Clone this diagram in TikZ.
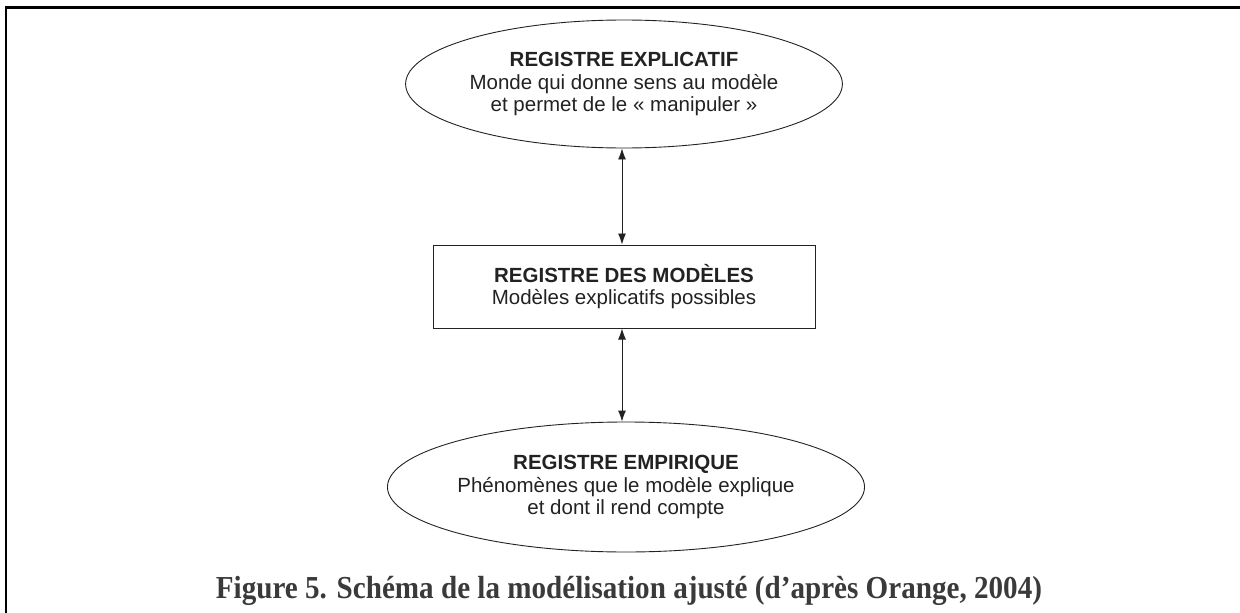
\documentclass[tikz,border=0pt]{standalone}
\usepackage{fontspec}
\setmainfont{Liberation Serif}
\setsansfont{Liberation Sans}
\usetikzlibrary{shapes.geometric,arrows.meta}
\definecolor{ink}{HTML}{222222}
\definecolor{capink}{HTML}{3A3A3A}
\tikzset{
  regell/.style={ellipse, draw=ink, line width=0.9pt, inner sep=0pt, text=ink,
    align=center, font=\sffamily\fontsize{20.5}{22.5}\selectfont},
  regbox/.style={rectangle, draw=ink, line width=1pt, inner sep=0pt, text=ink,
    align=center, font=\sffamily\fontsize{20.5}{22.5}\selectfont},
  dblarrow/.style={draw=ink, line width=0.9pt, {Latex[length=11pt,width=8pt]}-{Latex[length=11pt,width=8pt]}},
  frameline/.style={line width=2.2pt, black},
}
\begin{document}
\begin{tikzpicture}[x=1pt,y=-1pt]
\useasboundingbox (0,0) rectangle (1240,613);
\draw[frameline] (6,613) -- (6,7.5) -- (1240,7.5);
\node[regell, minimum width=384pt, minimum height=128pt] (expl) at (624,84)
  {\textbf{REGISTRE EXPLICATIF}\\Monde qui donne sens au modèle\\et permet de le « manipuler »};
\node[regbox, minimum width=382pt, minimum height=83pt] (mod) at (624,286.5)
  {\textbf{REGISTRE DES MODÈLES}\\Modèles explicatifs possibles};
\node[regell, minimum width=382pt, minimum height=130pt] (emp) at (626,487)
  {\textbf{REGISTRE EMPIRIQUE}\\Phénomènes que le modèle explique\\et dont il rend compte};
\coordinate (a1) at (622,148);
\coordinate (a2) at (622,245);
\coordinate (b1) at (622,328);
\coordinate (b2) at (622,422);
\draw[dblarrow] (expl.south -| a1) -- (mod.north -| a2);
\draw[dblarrow] (mod.south -| b1) -- (emp.north -| b2);
\node[anchor=base, text=capink, inner sep=0pt, font=\bfseries\fontsize{32}{33}\selectfont] (cap) at (629,598)
  {\scalebox{0.91}[1]{Figure 5. Schéma de la modélisation ajusté (d’après Orange, 2004)}};
\end{tikzpicture}
\end{document}
